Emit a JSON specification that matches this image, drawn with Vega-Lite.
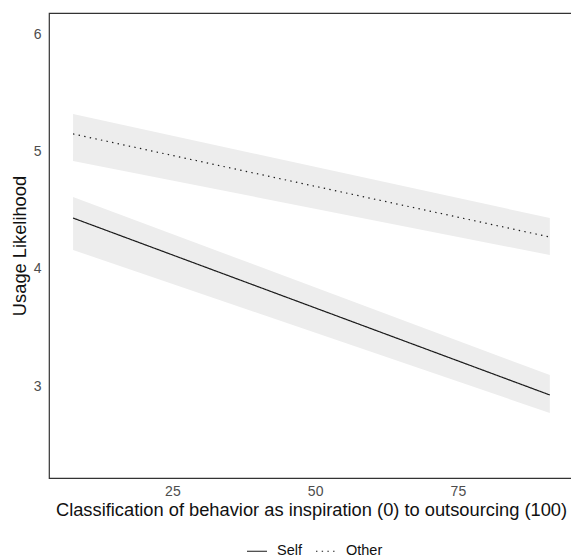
{
  "$schema": "https://vega.github.io/schema/vega-lite/v6.json",
  "width": 524,
  "height": 465,
  "autosize": "none",
  "padding": {"left": 49, "top": 13, "right": 0, "bottom": 82},
  "background": "white",
  "config": {
    "font": "Liberation Sans",
    "view": {"stroke": "#333333", "strokeWidth": 1.2},
    "axis": {"grid": false, "ticks": false, "domain": false, "labelColor": "#4d4d4d", "labelFontSize": 14, "titleFontSize": 18.3, "titleFontWeight": "normal", "titleColor": "#111111", "labelFont": "Liberation Sans", "titleFont": "Liberation Sans"}
  },
  "data": {
    "values": [
      {"x": 7.6, "fit": 4.434, "lo": 4.162, "hi": 4.613, "group": "Self"},
      {"x": 91.1, "fit": 2.927, "lo": 2.774, "hi": 3.097, "group": "Self"},
      {"x": 7.6, "fit": 5.150, "lo": 4.920, "hi": 5.320, "group": "Other"},
      {"x": 91.1, "fit": 4.272, "lo": 4.119, "hi": 4.434, "group": "Other"}
    ]
  },
  "encoding": {
    "x": {
      "field": "x", "type": "quantitative",
      "scale": {"domain": [3.39, 95.16], "nice": false, "zero": false},
      "axis": {"values": [25, 50, 75], "format": "d", "labelPadding": 6, "titlePadding": 3, "title": "Classification of behavior as inspiration (0) to outsourcing (100)"}
    }
  },
  "layer": [
    {
      "mark": {"type": "area", "color": "#ededed", "opacity": 1},
      "encoding": {
        "y": {"field": "lo", "type": "quantitative", "scale": {"domain": [2.22, 6.18], "nice": false, "zero": false},
          "axis": {"values": [3, 4, 5, 6], "format": "d", "labelPadding": 8, "titlePadding": 4, "title": "Usage Likelihood"}},
        "y2": {"field": "hi"},
        "detail": {"field": "group"}
      }
    },
    {
      "mark": {"type": "line", "color": "#1a1a1a", "strokeWidth": 1.2},
      "encoding": {
        "y": {"field": "fit", "type": "quantitative"},
        "strokeDash": {
          "field": "group", "type": "nominal",
          "scale": {"domain": ["Self", "Other"], "range": [[1, 0], [1.4, 4.3]]},
          "legend": {
            "title": null, "orient": "none", "direction": "horizontal",
            "legendX": 197, "legendY": 527, "padding": 0,
            "symbolType": "stroke", "symbolSize": 400, "symbolStrokeColor": "#1a1a1a", "symbolStrokeWidth": 1.2,
            "labelFontSize": 14.5, "labelColor": "#111111", "labelOffset": 9, "columnPadding": 11
          }
        }
      }
    }
  ]
}
